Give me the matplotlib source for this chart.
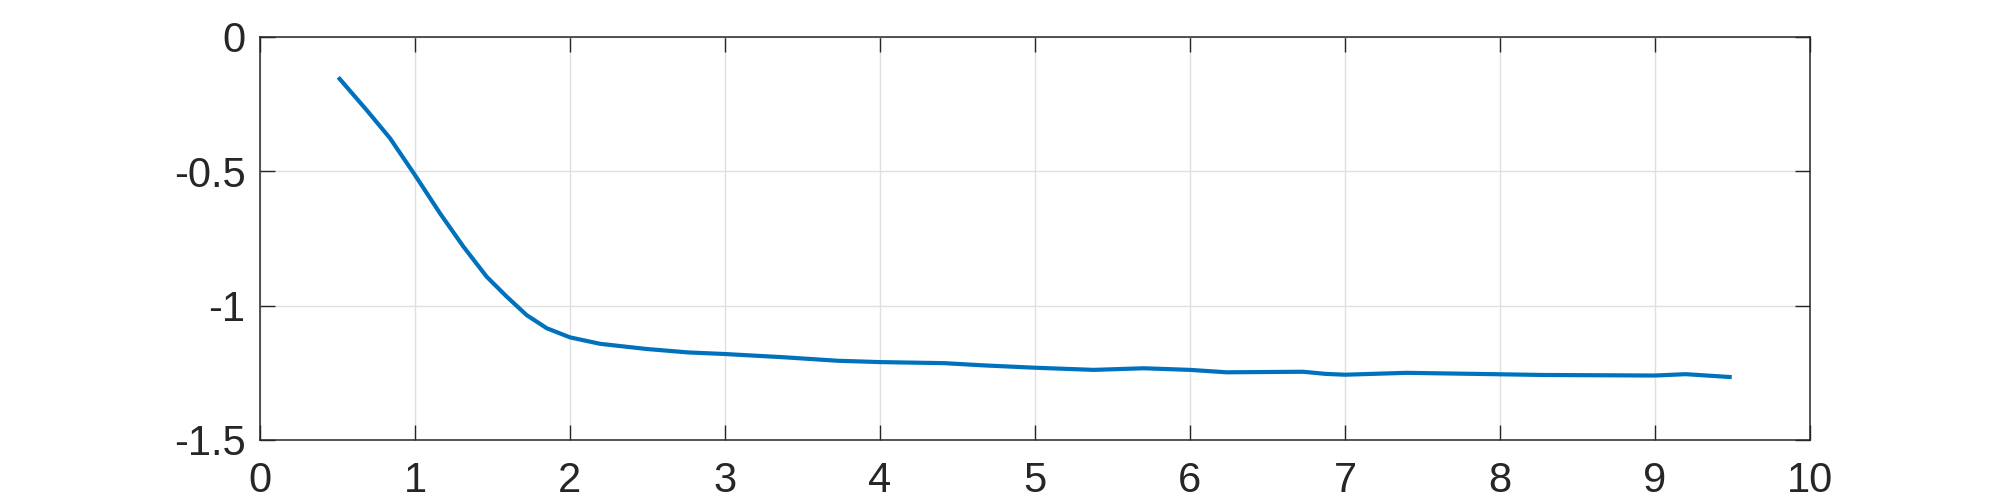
import matplotlib
matplotlib.use("Agg")
import matplotlib.pyplot as plt

plt.rcParams['font.family'] = ['Liberation Sans', 'DejaVu Sans']

x_vals = [0.505, 0.688, 0.839, 1.000, 1.161, 1.312, 1.462, 1.591, 1.720, 1.850,
          2.000, 2.194, 2.490, 2.761, 3.000, 3.379, 3.725, 4.000, 4.416, 4.660,
          5.000, 5.379, 5.700, 6.000, 6.235, 6.730, 6.877, 7.000, 7.396, 7.960,
          8.280, 9.000, 9.198, 9.495]
y_vals = [-0.150, -0.272, -0.377, -0.514, -0.656, -0.780, -0.892, -0.966, -1.035, -1.084,
          -1.118, -1.142, -1.161, -1.174, -1.180, -1.192, -1.205, -1.210, -1.214, -1.222,
          -1.231, -1.239, -1.233, -1.239, -1.248, -1.246, -1.254, -1.257, -1.250, -1.255,
          -1.258, -1.260, -1.255, -1.266]

xticks = [0, 1, 2, 3, 4, 5, 6, 7, 8, 9, 10]
yticks = [-1.5, -1, -0.5, 0]
ytick_labels = ['-1.5', '-1', '-0.5', '0']

fig = plt.figure(figsize=(20, 5), dpi=100)
ax = fig.add_axes([260/2000, 1 - 440/500, (1810-260)/2000, (440-37)/500])
ax.plot(x_vals, y_vals, color='#0072BD', linewidth=3.0, solid_capstyle='butt',
        solid_joinstyle='round')
ax.set_xlim(0, 10)
ax.set_ylim(-1.5, 0)
ax.set_xticks(xticks)
ax.set_xticklabels([str(t) for t in xticks])
ax.set_yticks(yticks)
ax.set_yticklabels(ytick_labels)
ax.grid(True, color='#e0e0e0', linewidth=1.0)
ax.set_axisbelow(True)
for s in ax.spines.values():
    s.set_color('#262626')
    s.set_linewidth(1.1)
ax.tick_params(axis='both', direction='in', length=11, width=1.0, color='#262626',
               labelsize=30, labelcolor='#262626', top=True, right=True)
ax.tick_params(axis='x', pad=15)
ax.tick_params(axis='y', pad=10.5)
fig.savefig('out.png', dpi=100)
